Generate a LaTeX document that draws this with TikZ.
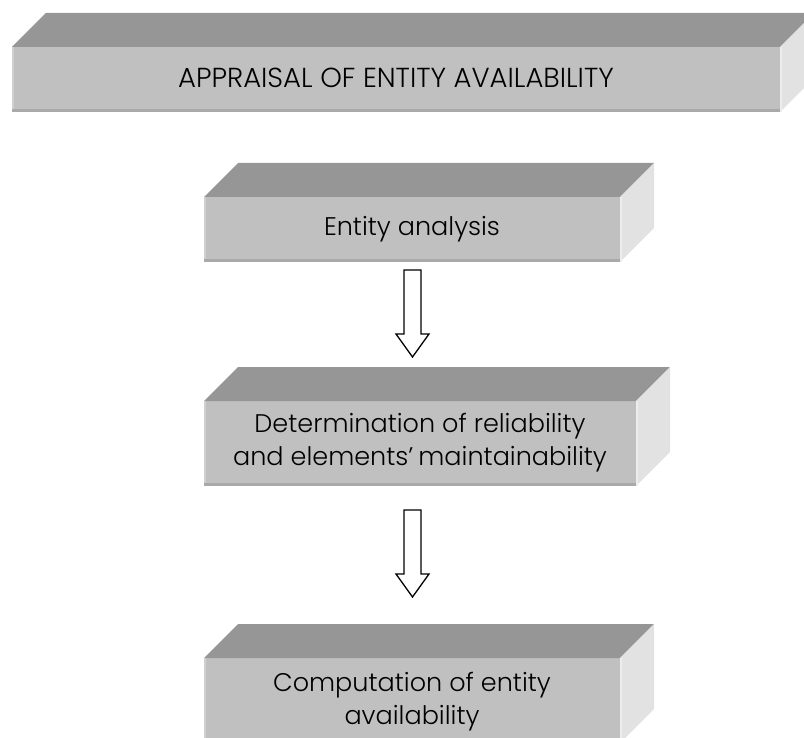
\documentclass[tikz,border=0pt]{standalone}
\usepackage{fontspec}
\setmainfont{Poppins}[UprightFont=* Light]
\usetikzlibrary{calc}
\definecolor{topc}{HTML}{969696}
\definecolor{frontc}{HTML}{C0C0C0}
\definecolor{sidec}{HTML}{E2E2E2}
\definecolor{edgedark}{HTML}{A9A9A9}
\definecolor{edgelight}{HTML}{D0D0D0}
\definecolor{sidelight}{HTML}{EDEDED}
\tikzset{
  frontface/.style={fill=frontc, draw=none, inner sep=0pt, outer sep=0pt, align=center,
    font=\fontsize{25.5}{32.5}\selectfont, text=black},
  titleface/.style={frontface, font=\fontsize{27.5}{32}\selectfont},
  topface/.style={fill=topc},
  sideface/.style={fill=sidec},
  flowarrow/.style={draw=black, fill=white, line width=1.3pt, line join=miter},
}
\newcommand\myfaces[1]{%
  \fill[topface] (#1.north west) -- ++(34,-34) -- ($(#1.north east)+(34,-34)$) -- (#1.north east) -- cycle;
  \fill[sideface] (#1.north east) -- ++(34,-34) -- ($(#1.south east)+(34,-34)$) -- (#1.south east) -- cycle;
  \draw[sidelight, line width=2pt] ($(#1.north east)+(1,0)$) -- ($(#1.south east)+(1,0)$);
  \draw[edgedark, line width=3pt] ($(#1.south west)+(0,-1.5)$) -- ($(#1.south east)+(0,-1.5)$);
  \draw[edgelight, line width=2pt] ($(#1.south west)+(1,-3)$) -- ($(#1.north west)+(1,0)$);
}
\newcommand\myarrow[1]{%
  \draw[flowarrow] ($(#1)+(-8.5,0)$) -- ++(17,0) -- ++(0,64) -- ++(8,0) -- ++(-16.5,23)
    -- ++(-16.5,-23) -- ++(8,0) -- cycle;
}
\begin{document}
\begin{tikzpicture}[x=1pt,y=-1pt]
\useasboundingbox (0,0) rectangle (804,738);
\clip (0,0) rectangle (804,738);
\node[titleface, minimum width=768pt, minimum height=65pt, anchor=north west] (t) at (12,47)
  {};
\node[titleface] (tt) at ($(t.center)+(0,-2)$) {APPRAISAL OF ENTITY AVAILABILITY};
\myfaces{t}
\node[frontface, minimum width=416pt, minimum height=65pt, anchor=north west] (e) at (204,197)
  {Entity analysis};
\myfaces{e}
\node[frontface, minimum width=432pt, minimum height=85pt, anchor=north west] (d) at (204,401)
  {};
\node[frontface, fill=none] (dt) at ($(d.center)+(0,-1)$)
  {Determination of reliability\\and elements’\kern5pt maintainability};
\myfaces{d}
\node[frontface, minimum width=416pt, minimum height=85pt, anchor=north west] (c) at (204,658)
  {};
\node[frontface, fill=none] (ct) at ($(c.center)+(0,1)$)
  {Computation of entity\\availability};
\myfaces{c}
\coordinate (a1) at ($(e.south)+(0.5,8)$);
\myarrow{a1}
\coordinate (a2) at ($(e.south |- d.south)+(0.5,24)$);
\myarrow{a2}
\end{tikzpicture}
\end{document}
